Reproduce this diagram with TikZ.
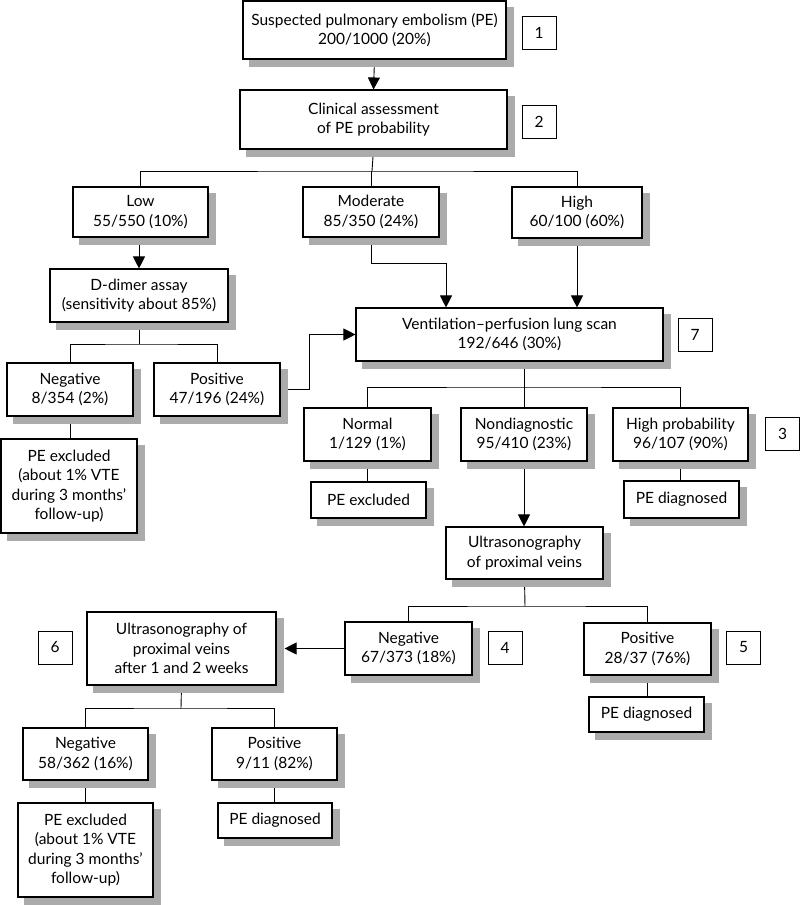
\documentclass[tikz,border=0pt]{standalone}
\usepackage{fontspec}
\setmainfont{Lato}
\usetikzlibrary{
	arrows.meta,
	positioning,
	backgrounds
}

\begin{document}
\begin{tikzpicture}[x=1pt,y=-1pt,>={Triangle[length=12pt,width=12pt]},
	box/.style={draw,line width=1.1pt,fill=white,align=center,inner sep=0pt,
		font=\fontsize{15.5}{19.5}\selectfont},
	tag/.style={draw,line width=0.7pt,minimum width=34pt,minimum height=33pt,
		inner sep=0pt,font=\fontsize{15.5}{19.5}\selectfont},
	shade/.style={fill=black!33},
	link/.style={line width=0.9pt},
	arr/.style={link,->}]
	
	\useasboundingbox (0,0) rectangle (800,905);
	
	%---------------- top ----------------%
	
	\node[box,minimum width=263pt,minimum height=58pt] (susp) at (374.5,30)
	{Suspected pulmonary embolism (PE)\\200/1000 (20\%)};
	\node[tag] (t1) at (539,32.5) {1};
	
	\node[box,minimum width=267pt,minimum height=59pt] (clin) at (373.5,119.5)
	{Clinical assessment\\of PE probability};
	\node[tag] (t2) at (539,121.5) {2};
	
	\node[box,minimum width=135pt,minimum height=50pt] (low) at (140.5,212)
	{Low\\55/550 (10\%)};
	\node[box,minimum width=136pt,minimum height=50pt] (mod) at (371,212)
	{Moderate\\85/350 (24\%)};
	\node[box,minimum width=130pt,minimum height=51pt] (high) at (577,212.5)
	{High\\60/100 (60\%)};
	
	%---------------- D-dimer ----------------%
	
	\node[box,minimum width=178pt,minimum height=53pt] (ddim) at (139,295.5)
	{D-dimer assay\\(sensitivity about 85\%)};
	\node[box,minimum width=126pt,minimum height=53pt] (dneg) at (70,389.5)
	{Negative\\8/354 (2\%)};
	\node[box,minimum width=126pt,minimum height=53pt] (dpos) at (217,389.5)
	{Positive\\47/196 (24\%)};
	\node[box,minimum width=136pt,minimum height=94pt] (dexcl) at (69,486)
	{PE excluded\\(about 1\% VTE\\during 3 months'\\follow-up)};
	
	%---------------- lung scan ----------------%
	
	\node[box,minimum width=307pt,minimum height=53pt] (vq) at (509.5,334.5)
	{Ventilation--perfusion lung scan\\192/646 (30\%)};
	\node[tag] (t7) at (695,335) {7};
	
	\node[box,minimum width=127pt,minimum height=53pt] (norm) at (367.5,434.5)
	{Normal\\1/129 (1\%)};
	\node[box,minimum width=126pt,minimum height=53pt] (nondiag) at (524,434.5)
	{Nondiagnostic\\95/410 (23\%)};
	\node[box,minimum width=135pt,minimum height=53pt] (hiprob) at (680.5,434.5)
	{High probability\\96/107 (90\%)};
	\node[tag] (t3) at (782.5,434) {3};
	
	\node[box,minimum width=115pt,minimum height=36pt] (nexcl) at (368.5,500)
	{PE excluded};
	\node[box,minimum width=115pt,minimum height=37pt] (hpdiag) at (681.5,499.5)
	{PE diagnosed};
	
	%---------------- ultrasonography ----------------%
	
	\node[box,minimum width=157pt,minimum height=52pt] (us) at (524.5,553)
	{Ultrasonography\\of proximal veins};
	\node[box,minimum width=127pt,minimum height=53pt] (uneg) at (408.5,648.5)
	{Negative\\67/373 (18\%)};
	\node[tag] (t4) at (505,648) {4};
	\node[box,minimum width=127pt,minimum height=52pt] (upos) at (647.5,649)
	{Positive\\28/37 (76\%)};
	\node[tag] (t5) at (743.5,647.5) {5};
	\node[box,minimum width=115pt,minimum height=35pt] (updiag) at (646.5,714.5)
	{PE diagnosed};
	
	%---------------- serial ultrasonography ----------------%
	
	\node[box,minimum width=189pt,minimum height=73pt] (us2) at (181.5,648.5)
	{Ultrasonography of\\proximal veins\\after 1 and 2 weeks};
	\node[tag] (t6) at (55,647.5) {6};
	
	\node[box,minimum width=125pt,minimum height=52pt] (wneg) at (85.5,754)
	{Negative\\58/362 (16\%)};
	\node[box,minimum width=125pt,minimum height=52pt] (wpos) at (274.5,754)
	{Positive\\9/11 (82\%)};
	\node[box,minimum width=135pt,minimum height=94pt] (wexcl) at (85.5,850)
	{PE excluded\\(about 1\% VTE\\during 3 months'\\follow-up)};
	\node[box,minimum width=114pt,minimum height=35pt] (wdiag) at (275,820.5)
	{PE diagnosed};
	
	%---------------- connectors ----------------%
	
	\begin{pgfonlayer}{background}
		\draw[arr] (susp.south) -- (clin.north);
		
		\coordinate (b1) at (372,171);
		\draw[link] (clin.south) -- (b1);
		\draw[link] (low.north) |- (b1) -| (high.north);
		\draw[link] (mod.north) -- (mod.north |- b1);
		
		\draw[arr] (low.south) -- (low.south -| ddim.north) -- (ddim.north);
		\draw[arr] (mod.south) -- ++(0,26) -| ([xshift=-63.5pt]vq.north);
		\draw[arr] (high.south) -- (high.south |- vq.north);
		
		\coordinate (b2) at (139,344);
		\draw[link] (ddim.south) -- (b2);
		\draw[link] (dneg.north) |- (b2) -| (dpos.north);
		\draw[link] (dneg.south) -- (dneg.south |- dexcl.north);
		\draw[arr] (dpos.east) -- ++(29,0) |- (vq.west);
		
		\coordinate (b3) at (524,387);
		\draw[link] (nondiag.north |- vq.south) -- (nondiag.north);
		\draw[link] (norm.north) |- (b3) -| (hiprob.north);
		\draw[link] (norm.south) -- (norm.south |- nexcl.north);
		\draw[link] (hiprob.south) -- (hiprob.south |- hpdiag.north);
		\draw[arr] (nondiag.south) -- (nondiag.south |- us.north);
		
		\coordinate (b4) at (525,606);
		\draw[link] (us.south) -- (b4);
		\draw[link] (uneg.north) |- (b4) -| (upos.north);
		\draw[link] (upos.south) -- (upos.south |- updiag.north);
		\draw[arr,shorten >=8pt] (uneg.west) -- (uneg.west -| us2.east);
		
		\coordinate (b5) at (181,708);
		\draw[link] (us2.south) -- (b5);
		\draw[link] (wneg.north) |- (b5) -| (wpos.north);
		\draw[link] (wneg.south) -- (wneg.south |- wexcl.north);
		\draw[link] (wpos.south) -- (wpos.south |- wdiag.north);
		
		% shadows over the connector ends
		\foreach \n in {susp,clin,low,mod,high,ddim,dneg,dpos,dexcl,vq,norm,
			nondiag,hiprob,nexcl,hpdiag,us,uneg,upos,updiag,us2,wneg,wpos,wexcl,wdiag}
		\fill[shade] ([shift={(7pt,-7pt)}]\n.south west) rectangle
			([shift={(7pt,-7pt)}]\n.north east);
	\end{pgfonlayer}
	
\end{tikzpicture}
\end{document}
